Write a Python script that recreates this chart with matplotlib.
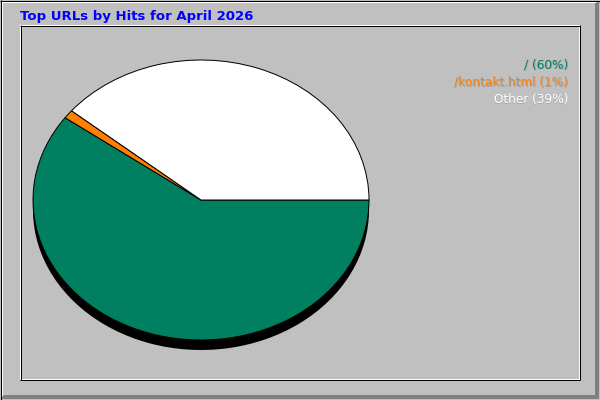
import numpy as np
import matplotlib
matplotlib.use("Agg")
import matplotlib.pyplot as plt
from matplotlib.patches import Rectangle

TITLE = "Top URLs by Hits for April 2026"
LABELS = ["/", "/kontakt.html", "Other"]
PERCENTS = [60, 1, 39]
COLORS = ["#008060", "#ff8000", "#ffffff"]

W, H = 600, 400
BG = "#c0c0c0"

fig = plt.figure(figsize=(W / 100, H / 100), dpi=100, facecolor=BG)

# =========================
# Frame (pixel coordinates)
# =========================

frame = fig.add_axes([0, 0, 1, 1])
frame.set_xlim(0, W)
frame.set_ylim(H, 0)
frame.axis("off")

px = 0.72  # one pixel in points


def hline(y, x0, x1, color, lw=1):
    frame.plot([x0, x1], [y, y], color=color, lw=lw * px, solid_capstyle="butt")


def vline(x, y0, y1, color, lw=1):
    frame.plot([x, x], [y0, y1], color=color, lw=lw * px, solid_capstyle="butt")


# outer border
frame.add_patch(Rectangle((595, 2), 4, 397, color="#808080", lw=0))
frame.add_patch(Rectangle((2, 395), 597, 4, color="#808080", lw=0))
hline(1.5, 1, 596, "white")
vline(1.5, 1, 396, "white")
hline(0.5, 0, 600, "black")
vline(0.5, 0, 400, "black")
hline(399.5, 0, 600, "black")
vline(599.5, 0, 400, "black")

# inner panel
hline(24.5, 19, 579, "white")
vline(19.5, 24, 379, "white")
hline(378.5, 20, 579, "white")
vline(578.5, 25, 379, "white")
hline(25.5, 20, 580, "black")
vline(20.5, 25, 380, "black")
hline(379.5, 20, 580, "black")
vline(579.5, 25, 380, "black")

frame.text(20, 20, TITLE, color="#0000ff", fontsize=9.5, fontweight="bold",
           family="DejaVu Sans", va="baseline", ha="left")

# =========================
# Pie
# =========================

cx, cy, rx, ry = 201, 200, 168, 140
depth = 10

ax = fig.add_axes([(cx - rx) / W, (H - cy - ry) / H, 2 * rx / W, 2 * ry / H])
ax.set_xlim(-1, 1)
ax.set_ylim(-1, 1)
ax.axis("off")

ax.pie(PERCENTS, colors=["black"] * len(PERCENTS), startangle=0, counterclock=False,
       center=(0, -depth / ry), radius=1,
       wedgeprops={"linewidth": 0, "clip_on": False})
ax.pie(PERCENTS, colors=COLORS, startangle=0, counterclock=False,
       center=(0, 0), radius=1,
       wedgeprops={"edgecolor": "black", "linewidth": px, "clip_on": False})
ax.set_aspect("auto")
ax.set_xlim(-1, 1)
ax.set_ylim(-1, 1)

# =========================
# Legend texts
# =========================

for i, (lab, pct, col) in enumerate(zip(LABELS, PERCENTS, COLORS)):
    y = 68 + i * 17.5
    txt = f"{lab} ({pct}%)"
    frame.text(568 + 1, y + 1, txt, color="#a4a4a4", fontsize=8.7,
               ha="right", va="baseline", family="DejaVu Sans")
    frame.text(568, y, txt, color=col, fontsize=8.7,
               ha="right", va="baseline", family="DejaVu Sans")

fig.savefig("out.png", dpi=100, facecolor=BG)
